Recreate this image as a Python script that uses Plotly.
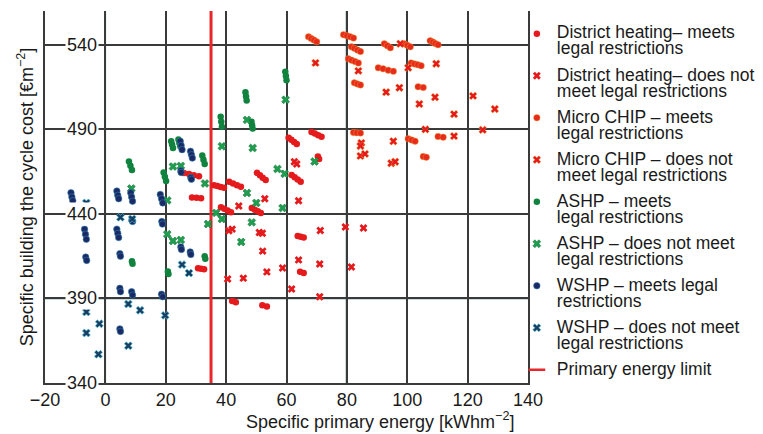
import plotly.graph_objects as go

# ---------------- data ----------------
x_ticks = [-20, 0, 20, 40, 60, 80, 100, 120, 140]
y_ticks = [340, 390, 440, 490, 540]
y_top = 560
primary_energy_limit = 35

dh_meets_x = [68.3, 69.4, 70.5, 71.6, 60.7, 61.6, 62.5, 63.4, 50.2, 51.2, 52.1, 53.1,
              61.7, 62.7, 63.7, 64.7, 41.0, 42.3, 43.6, 44.9, 36.0, 37.1, 38.2, 39.3,
              38.3, 39.4, 40.5, 41.6, 48.5, 49.5, 50.5, 51.5, 26.0, 27.7, 29.3, 31.0,
              70.4, 70.8, 30.7, 31.7, 32.7, 63.7, 64.7, 65.7, 64.5, 65.7, 42.0, 43.2,
              52.0, 53.5, 28.7, 30.2, 31.7]
dh_meets_y = [488.5, 487.5, 486.5, 485.6, 485.0, 483.8, 482.6, 481.4, 464.3, 462.9, 461.4, 460.0,
              463.0, 461.7, 460.3, 459.0, 459.0, 458.0, 457.0, 456.0, 457.0, 456.5, 455.9, 455.4,
              444.0, 443.0, 442.0, 441.0, 443.5, 442.5, 441.6, 440.6, 464.2, 463.6, 462.9, 462.2,
              474.0, 472.5, 407.8, 407.5, 407.2, 427.0, 426.5, 426.0, 405.8, 405.0, 388.5, 387.8,
              386.0, 385.3, 449.7, 449.5, 449.3]

dh_fails_x = [62.6, 63.4, 52.8, 64.0, 44.2, 40.9, 51.0, 52.0, 71.2, 79.5, 40.5, 45.7,
              52.1, 53.5, 42.0, 58.7, 61.7, 64.0, 71.0, 71.0, 81.5, 85.5]
dh_fails_y = [470.8, 469.5, 449.0, 447.8, 444.7, 430.0, 429.0, 428.6, 430.2, 432.3, 401.5, 402.0,
              418.0, 405.7, 431.0, 408.0, 395.6, 412.8, 410.4, 391.0, 408.6, 431.7]

chp_meets_x = [78.9, 80.0, 81.1, 82.2, 81.5, 82.5, 83.5, 84.5, 80.5, 81.6, 82.7, 83.8,
               82.5, 83.5, 84.5, 92.4, 93.4, 94.4, 99.0, 100.0, 101.0,
               107.6, 108.5, 109.3, 110.2, 90.4, 92.0, 93.7, 95.4, 101.3, 102.4, 103.5, 104.6,
               67.3, 68.2, 69.1, 70.0, 82.2, 83.3, 84.5, 100.3, 101.5, 102.6,
               110.2, 111.9, 103.6, 105.3, 105.3, 106.3]
chp_meets_y = [546.0, 545.4, 544.7, 544.0, 538.8, 537.9, 536.9, 536.0, 531.7, 530.9, 530.1, 529.3,
               517.5, 516.9, 516.3, 540.6, 539.4, 538.2, 540.6, 539.7, 538.8,
               542.4, 541.6, 540.8, 540.0, 526.4, 525.8, 525.0, 524.3, 529.3, 528.7, 528.2, 527.6,
               544.7, 543.7, 542.8, 541.8, 488.2, 488.0, 487.8, 484.4, 483.7, 483.0,
               485.8, 485.4, 515.2, 514.8, 473.9, 473.5]

chp_fails_x = [83.8, 97.7, 100.3, 109.6, 93.0, 97.4, 109.2, 104.0, 115.5, 121.8, 129.0, 106.0,
               125.0, 84.8, 84.5, 95.4, 115.5, 84.5, 86.0, 94.7, 96.0, 69.6]
chp_fails_y = [524.6, 540.6, 526.4, 528.8, 512.0, 514.6, 509.0, 505.0, 499.0, 509.8, 502.0, 490.0,
               489.7, 482.0, 480.2, 483.0, 486.0, 474.3, 475.5, 470.0, 470.8, 529.3]

ashp_meets_x = [7.8, 8.3, 8.8, 21.8, 22.1, 22.4, 24.2, 24.5, 24.8, 32.1, 32.5, 32.9,
                38.2, 38.4, 38.6, 46.4, 46.6, 46.8, 48.4, 48.6, 48.8, 59.6, 59.8, 60.0,
                19.3, 19.7, 20.1, 8.8, 9.0, 20.7, 20.9, 32.9, 33.1]
ashp_meets_y = [471.0, 468.5, 466.0, 483.0, 481.0, 479.0, 484.0, 482.0, 480.0, 474.5, 472.0, 469.5,
                497.5, 494.5, 491.5, 512.0, 509.5, 507.0, 494.5, 492.5, 490.5, 524.0, 521.5, 519.0,
                464.5, 462.0, 459.5, 412.0, 410.5, 406.0, 404.5, 415.0, 413.5]

ashp_fails_x = [38.6, 46.9, 48.8, 59.7, 22.4, 25.0, 8.6, 20.5, 33.0, 46.9, 50.0, 57.0,
                59.4, 69.3, 36.7, 20.5, 22.4, 25.0, 34.0, 38.6, 45.0, 48.5, 58.7]
ashp_fails_y = [480.0, 495.6, 479.0, 507.5, 468.0, 468.4, 455.0, 448.0, 458.0, 452.4, 446.5, 466.6,
                463.7, 471.0, 440.6, 428.0, 424.0, 424.6, 434.0, 437.0, 423.4, 435.0, 443.5]

wshp_meets_x = [-11.4, -11.1, -10.8, -6.9, -6.6, -6.3, 3.8, 4.1, 4.4, 8.4, 8.7, 9.0,
                18.2, 18.6, 19.0, 24.8, 25.1, 25.4, 28.2, 28.5, 28.8, 3.8, 4.1, 4.4,
                4.8, 5.0, 8.7, 9.0, 18.6, 19.0, 4.8, 5.0, -6.5, -6.2,
                25.0, 25.2, 28.1, 28.3, 8.8, 9.0, 18.7, 18.9, 4.8, 5.0,
                25.0, 25.1, 28.3, 28.5]
wshp_meets_y = [452.5, 450.0, 447.8, 431.0, 428.0, 425.0, 453.5, 451.0, 449.0, 452.5, 450.0, 447.5,
                451.5, 449.0, 446.5, 483.0, 480.5, 478.0, 477.0, 475.0, 473.0, 431.0, 428.5, 426.0,
                396.0, 394.0, 394.0, 392.0, 392.5, 391.0, 372.0, 370.5, 414.5, 412.5,
                420.5, 419.0, 417.5, 416.0, 436.5, 435.5, 435.5, 434.0, 416.5, 415.0,
                465.5, 464.5, 461.5, 460.5]

wshp_fails_x = [-6.3, 5.0, 8.9, -6.3, -2.0, 7.6, 11.5, 19.8, 7.6, -2.3, 25.4, 27.7, -6.3]
wshp_fails_y = [446.5, 438.0, 437.0, 382.0, 375.0, 386.7, 383.0, 380.0, 362.0, 357.0, 410.0, 405.0, 369.6]

series_names = [
    ("District heating– meets", "legal restrictions"),
    ("District heating– does not", "meet legal restrictions"),
    ("Micro CHIP – meets", "legal restrictions"),
    ("Micro CHIP – does not", "meet legal restrictions"),
    ("ASHP – meets", "legal restrictions"),
    ("ASHP – does not meet", "legal restrictions"),
    ("WSHP – meets legal", "restrictions"),
    ("WSHP – does not meet", "legal restrictions"),
]
limit_name = "Primary energy limit"
x_title = "Specific primary energy [kWhm<sup>−2</sup>]"
y_title = "Specific building the cycle cost [€m<sup>−2</sup>]"

# ---------------- styling ----------------
FONT = "Liberation Sans, Arial, sans-serif"
TXT = "#1a1a1a"
GRID = "#3a3a3a"
LEG_PX = 17.5


def label(*lines):
    return "<br>".join('<span style="font-size:%spx">%s</span>' % (LEG_PX, l) for l in lines)


styles = [
    dict(symbol="circle", color="#e41a1c", line=dict(width=0)),
    dict(symbol="x", color="#e41a1c", line=dict(width=0)),
    dict(symbol="circle", color="#e62a1c", line=dict(width=0.4, color="#f2a531")),
    dict(symbol="x", color="#e41a1c", line=dict(width=0.4, color="#f3b23a")),
    dict(symbol="circle", color="#10843f", line=dict(width=0)),
    dict(symbol="x", color="#1f9e4f", line=dict(width=0.5, color="#0d6b33")),
    dict(symbol="circle", color="#1b2a66", line=dict(width=0.6, color="#2f7fa8")),
    dict(symbol="x", color="#1a3d60", line=dict(width=0.7, color="#48bcd8")),
]

data = [
    (dh_meets_x, dh_meets_y), (dh_fails_x, dh_fails_y),
    (chp_meets_x, chp_meets_y), (chp_fails_x, chp_fails_y),
    (ashp_meets_x, ashp_meets_y), (ashp_fails_x, ashp_fails_y),
    (wshp_meets_x, wshp_meets_y), (wshp_fails_x, wshp_fails_y),
]

LIMIT_RED = "#e8262b"
fig = go.Figure()

# primary energy limit line (drawn under the markers)
fig.add_trace(go.Scatter(
    x=[primary_energy_limit, primary_energy_limit], y=[y_ticks[0], y_top],
    mode="lines", line=dict(color=LIMIT_RED, width=3),
    showlegend=False, hoverinfo="skip"))

for i, ((xs, ys), st, nm) in enumerate(zip(data, styles, series_names)):
    size = 6.5 if st["symbol"] == "circle" else 7
    fig.add_trace(go.Scatter(
        x=xs, y=ys, mode="markers",
        marker=dict(symbol=st["symbol"], color=st["color"], size=size, line=st["line"]),
        name=label(*nm), legendgroup="g%d" % i))

# legend entry for the limit line (short dash swatch)
fig.add_trace(go.Scatter(
    x=[primary_energy_limit], y=[None], mode="markers",
    marker=dict(symbol="line-ew", size=12, color=LIMIT_RED,
                line=dict(color=LIMIT_RED, width=2.5)),
    name=label(limit_name), legendgroup="limit", hoverinfo="skip"))

# highlighted grid lines (coloured in the reference)
for xv, col, w in [(0, "#3b8ea3", 1.4), (80, "#1c5a5a", 2.2)]:
    fig.add_shape(type="line", xref="x", yref="y", x0=xv, x1=xv, y0=y_ticks[0], y1=y_top,
                  line=dict(color=col, width=w), layer="below")
fig.add_shape(type="line", xref="x", yref="y", x0=x_ticks[0], x1=x_ticks[-1], y0=390, y1=390,
              line=dict(color="#226d6a", width=1.8), layer="below")

# y tick labels sitting on the grid lines inside the plot
for v in y_ticks:
    fig.add_annotation(x=x_ticks[0], y=v, xref="x", yref="y", text=str(v),
                       showarrow=False, xanchor="left", yanchor="middle", xshift=20,
                       bgcolor="white", borderpad=1,
                       font=dict(family=FONT, size=18, color=TXT))

# axis titles
fig.add_annotation(x=0.693, y=-0.10, xref="paper", yref="paper", text=x_title,
                   showarrow=False, xanchor="center", yanchor="middle",
                   font=dict(family=FONT, size=18, color=TXT))
fig.add_annotation(x=-0.041, y=0.5, xref="paper", yref="paper", text=y_title,
                   showarrow=False, textangle=-90, xanchor="center", yanchor="middle",
                   font=dict(family=FONT, size=18, color=TXT))

# the page body adds an 8 px margin, so the figure is 8 px smaller than the window
fig.update_layout(
    template="none",
    width=755, height=426, autosize=False,
    margin=dict(l=37, r=233, t=3, b=51, pad=0),
    paper_bgcolor="white", plot_bgcolor="white",
    font=dict(family=FONT, color=TXT),
    showlegend=True,
    legend=dict(x=1.48, xanchor="right", y=0.978, yanchor="top",
                font=dict(family=FONT, size=12.31, color=TXT),
                tracegroupgap=7, valign="top", bgcolor="rgba(0,0,0,0)",
                borderwidth=0, itemclick=False, itemdoubleclick=False),
    xaxis=dict(range=[x_ticks[0], x_ticks[-1]], tickvals=x_ticks,
               ticktext=[("−%d" % -t) if t < 0 else str(t) for t in x_ticks],
               showgrid=True, gridcolor=GRID, gridwidth=1.5,
               showline=True, linecolor=GRID, linewidth=1.5, mirror=False,
               zeroline=False, ticks="", automargin=False,
               tickfont=dict(family=FONT, size=18, color=TXT), fixedrange=True),
    yaxis=dict(range=[y_ticks[0], y_top], tickvals=y_ticks, showticklabels=False,
               showgrid=True, gridcolor=GRID, gridwidth=1.5,
               showline=True, linecolor=GRID, linewidth=1.5, mirror=True,
               zeroline=False, ticks="", automargin=False, fixedrange=True),
)

fig.write_html("out.html")
